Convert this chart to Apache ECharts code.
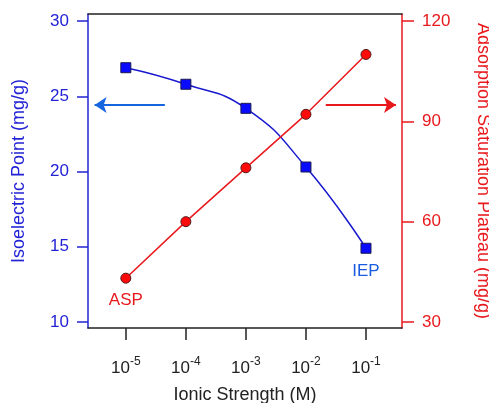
<!DOCTYPE html>
<html style="height: 100%">
   <head>
       <meta charset="utf-8">
   </head>
   <body style="height: 100%; margin: 0">
       <div id="container" style="width: 489px; height: 403px"></div>
       <script type="text/javascript" src="https://cdn.jsdelivr.net/npm/echarts@6/dist/echarts.min.js"></script>

       <script type="text/javascript">
var dom = document.getElementById("container");
var myChart = echarts.init(dom);

// ionic strength as log10 exponent: 10^-5 ... 10^-1
var exponents = [-5, -4, -3, -2, -1];
var iepValues = [26.9, 25.8, 24.2, 20.3, 14.9];
var aspValues = [43.1, 60.0, 76.1, 92.1, 110.0];
var leftTicks = [10, 15, 20, 25, 30];
var rightTicks = [30, 60, 90, 120];
// arrows pointing to the matching axis: [x from, x to, y]
var blueArrow = [-4.35, -5.52, 24.42];
var redArrow = [-1.67, -0.5, 94.9];

var fontName = 'Liberation Sans';
var blue = '#2323d6';
var red = '#e8181c';

function pairs(xs, ys) {
    return xs.map(function (x, i) { return [x, ys[i]]; });
}

var iepData = pairs(exponents, iepValues);
iepData[4] = {
    value: iepData[4],
    label: { show: true, position: 'bottom', distance: 9, formatter: 'IEP', color: '#1a5ce0', fontSize: 17, fontFamily: fontName }
};
var aspData = pairs(exponents, aspValues);
aspData[0] = {
    value: aspData[0],
    label: { show: true, position: 'bottom', distance: 8, formatter: 'ASP', color: red, fontSize: 17, fontFamily: fontName }
};

option = {
    animation: false,
    grid: {
        left: 88,
        right: 87,
        top: 14,
        bottom: 75,
        outerBoundsMode: 'none',
        containLabel: false
    },
    xAxis: [{
        type: 'value',
        min: -5.63,
        max: -0.4,
        position: 'bottom',
        name: 'Ionic Strength (M)',
        nameLocation: 'middle',
        nameGap: 58,
        nameTextStyle: { color: '#222', fontSize: 18, fontFamily: fontName },
        axisLine: { lineStyle: { color: '#222', width: 1.5 } },
        axisTick: { show: true, customValues: exponents, length: 12, inside: false, lineStyle: { color: '#222', width: 1.5 } },
        axisLabel: {
            customValues: exponents,
            margin: 28,
            color: '#222',
            fontSize: 17,
            fontFamily: fontName,
            formatter: function (v) {
                return '10{sup|' + v + '}';
            },
            rich: {
                sup: { fontSize: 12, fontFamily: fontName, color: '#222', padding: [0, 0, 12, 0] }
            }
        },
        splitLine: { show: false }
    }, {
        type: 'value',
        min: -5.63,
        max: -0.4,
        position: 'top',
        axisLine: { lineStyle: { color: '#222', width: 1.5 } },
        axisTick: { show: false },
        axisLabel: { show: false },
        splitLine: { show: false }
    }],
    yAxis: [{
        type: 'value',
        min: 9.6,
        max: 30.47,
        position: 'left',
        name: 'Isoelectric Point (mg/g)',
        nameLocation: 'middle',
        nameGap: 60,
        nameTextStyle: { color: blue, fontSize: 18, fontFamily: fontName },
        axisLine: { show: true, lineStyle: { color: blue, width: 1.5 } },
        axisTick: { show: true, customValues: leftTicks, length: 11, lineStyle: { color: blue, width: 1.5 } },
        axisLabel: { customValues: leftTicks, margin: 19, color: blue, fontSize: 17, fontFamily: fontName },
        splitLine: { show: false }
    }, {
        type: 'value',
        min: 28.2,
        max: 122.1,
        position: 'right',
        name: 'Adsorption Saturation Plateau (mg/g)',
        nameLocation: 'middle',
        nameRotate: -90,
        nameGap: 72,
        nameTextStyle: { color: red, fontSize: 18, fontFamily: fontName },
        axisLine: { show: true, lineStyle: { color: red, width: 1.5 } },
        axisTick: { show: true, customValues: rightTicks, length: 12, lineStyle: { color: red, width: 1.5 } },
        axisLabel: { customValues: rightTicks, margin: 20, color: red, fontSize: 17, fontFamily: fontName },
        splitLine: { show: false }
    }],
    series: [{
        name: 'IEP',
        type: 'line',
        xAxisIndex: 0,
        yAxisIndex: 0,
        smooth: 0.5,
        symbol: 'rect',
        symbolSize: 10,
        itemStyle: { color: '#0a0aff', borderColor: '#1a1a50', borderWidth: 1 },
        lineStyle: { color: '#1818d0', width: 1.5 },
        data: iepData,
        z: 3,
        markLine: {
            silent: true,
            symbol: ['none', 'arrow'],
            symbolSize: 12,
            label: { show: false },
            lineStyle: { color: '#1565e0', width: 2, type: 'solid' },
            data: [[{ coord: [blueArrow[0], blueArrow[2]] }, { coord: [blueArrow[1], blueArrow[2]] }]]
        }
    }, {
        name: 'ASP',
        type: 'line',
        xAxisIndex: 0,
        yAxisIndex: 1,
        symbol: 'circle',
        symbolSize: 10,
        itemStyle: { color: '#ff0a0a', borderColor: '#501a1a', borderWidth: 1 },
        lineStyle: { color: red, width: 1.5 },
        data: aspData,
        z: 4,
        markLine: {
            silent: true,
            symbol: ['none', 'arrow'],
            symbolSize: 12,
            label: { show: false },
            lineStyle: { color: red, width: 2, type: 'solid' },
            data: [[{ coord: [redArrow[0], redArrow[2]] }, { coord: [redArrow[1], redArrow[2]] }]]
        }
    }]
};

myChart.setOption(option);
       </script>
   </body>
</html>
